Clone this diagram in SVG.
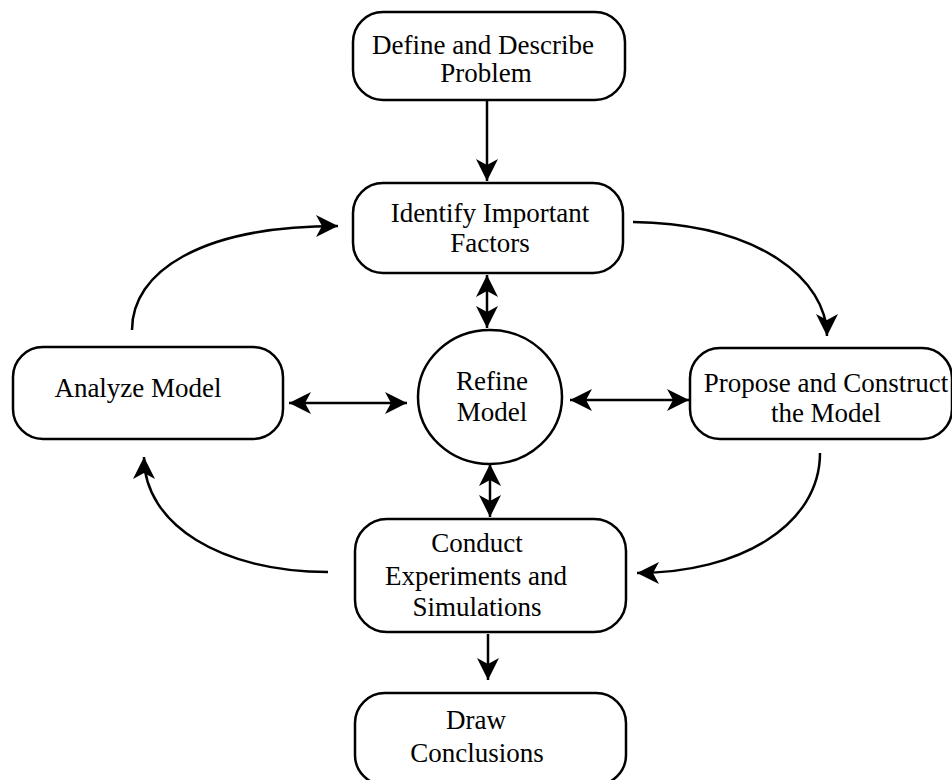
<svg xmlns="http://www.w3.org/2000/svg" width="952" height="780" viewBox="0 0 952 780">
<style>
.box{fill:#fff;stroke:#000;stroke-width:2.5}
.lbl{font-family:"Liberation Serif","Times New Roman",serif;font-size:27px;fill:#000;text-anchor:middle}
.c{fill:none;stroke:#000;stroke-width:2.5}
</style>
<defs>
<marker id="ah" markerUnits="userSpaceOnUse" markerWidth="24" markerHeight="24" viewBox="0 0 24 24" refX="22" refY="12" orient="auto-start-reverse">
<path d="M0,1 L22,12 L0,23 L6,12 z" fill="#000"/>
</marker>
</defs>
<rect width="952" height="780" fill="#fff"/>
<g id="connectors">
<path class="c" d="M487,100 L487,181" marker-end="url(#ah)"/>
<path class="c" d="M487,275 L487,328" marker-start="url(#ah)" marker-end="url(#ah)"/>
<path class="c" d="M289,403 L407,403" marker-start="url(#ah)" marker-end="url(#ah)"/>
<path class="c" d="M570,400 L689,400" marker-start="url(#ah)" marker-end="url(#ah)"/>
<path class="c" d="M490,464 L490,517" marker-start="url(#ah)" marker-end="url(#ah)"/>
<path class="c" d="M488,634 L488,680" marker-end="url(#ah)"/>
<path class="c" d="M132,330 C132,272 200,226 338,226" marker-end="url(#ah)"/>
<path class="c" d="M633,222 C760,224 827,280 827,336" marker-end="url(#ah)"/>
<path class="c" d="M820,453 C820,525 740,573 637,573" marker-end="url(#ah)"/>
<path class="c" d="M328,572 C222,572 144,525 144,457" marker-end="url(#ah)"/>
</g>
<g id="define">
<rect class="box" x="353" y="12" width="272" height="88" rx="30"/>
<text class="lbl" x="483" y="54">Define and Describe</text>
<text class="lbl" x="486" y="82">Problem</text>
</g>
<g id="identify">
<rect class="box" x="353" y="183" width="270" height="90" rx="30"/>
<text class="lbl" x="490" y="222">Identify Important</text>
<text class="lbl" x="490" y="252">Factors</text>
</g>
<g id="analyze">
<rect class="box" x="13" y="347" width="270" height="92" rx="30"/>
<text class="lbl" x="138" y="397">Analyze Model</text>
</g>
<g id="refine">
<ellipse class="box" cx="490" cy="397" rx="72" ry="67"/>
<text class="lbl" x="492" y="390">Refine</text>
<text class="lbl" x="492" y="421">Model</text>
</g>
<g id="propose">
<rect class="box" x="690" y="348" width="262" height="91" rx="30"/>
<text class="lbl" x="826" y="392">Propose and Construct</text>
<text class="lbl" x="826" y="422">the Model</text>
</g>
<g id="conduct">
<rect class="box" x="355" y="519" width="271" height="113" rx="32"/>
<text class="lbl" x="477" y="552">Conduct</text>
<text class="lbl" x="476" y="585">Experiments and</text>
<text class="lbl" x="477" y="616">Simulations</text>
</g>
<g id="draw">
<rect class="box" x="355" y="693" width="271" height="92" rx="30"/>
<text class="lbl" x="476" y="729">Draw</text>
<text class="lbl" x="477" y="762">Conclusions</text>
</g>
</svg>
